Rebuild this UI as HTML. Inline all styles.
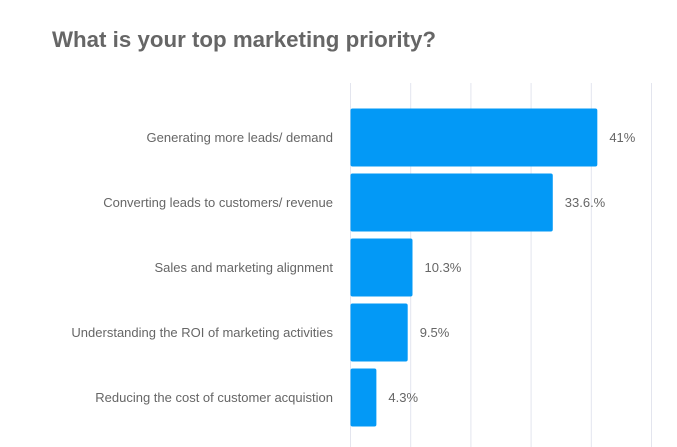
<!DOCTYPE html>
<html><head><meta charset="utf-8"><style>
html,body{margin:0;padding:0;background:#fff;}
svg{display:block;font-family:"Liberation Sans",sans-serif;}
</style></head><body>
<svg id="chart" width="677" height="447">
<text x="52" y="47" font-size="22" font-weight="bold" fill="#666" textLength="384" lengthAdjust="spacingAndGlyphs">What is your top marketing priority?</text>
<g id="grid"></g><g id="bars"></g>
</svg>
<script>
const categories = ["Generating more leads/ demand","Converting leads to customers/ revenue","Sales and marketing alignment","Understanding the ROI of marketing activities","Reducing the cost of customer acquistion"];
const values = [41, 33.6, 10.3, 9.5, 4.3];
const valueLabels = ["41%","33.6.%","10.3%","9.5%","4.3%"];
const gridTicks = [0,10,20,30,40,50];

const ns="http://www.w3.org/2000/svg";
const x0=350.5, pxPer=6.02;
const xScale=v=>x0+v*pxPer;
const yTop=108.5, pitch=65, bh=58;
const yScale=i=>yTop+i*pitch;
const grid=document.getElementById('grid'), bars=document.getElementById('bars');
gridTicks.forEach(t=>{
  const l=document.createElementNS(ns,'line');
  l.setAttribute('x1',xScale(t));l.setAttribute('x2',xScale(t));
  l.setAttribute('y1',83);l.setAttribute('y2',447);
  l.setAttribute('stroke','#e3e5ee');l.setAttribute('stroke-width','1');
  
  
  grid.appendChild(l);
});
categories.forEach((c,i)=>{
  const y=yScale(i);
  const r=document.createElementNS(ns,'rect');
  r.setAttribute('x',x0);r.setAttribute('y',y);
  r.setAttribute('width',xScale(values[i])-x0);r.setAttribute('height',bh);
  r.setAttribute('rx',2);r.setAttribute('fill','#0399f6');
  
  
  bars.appendChild(r);
  const t=document.createElementNS(ns,'text');
  t.setAttribute('x',333);t.setAttribute('y',y+bh/2+4.5);
  t.setAttribute('text-anchor','end');t.setAttribute('font-size','13');t.setAttribute('fill','#666');
  t.textContent=c;
  
  
  bars.appendChild(t);
  const v=document.createElementNS(ns,'text');
  v.setAttribute('x',xScale(values[i])+12);v.setAttribute('y',y+bh/2+4.5);
  v.setAttribute('font-size','13');v.setAttribute('fill','#666');
  v.textContent=valueLabels[i];
  
  
  bars.appendChild(v);
});
</script>
</body></html>
